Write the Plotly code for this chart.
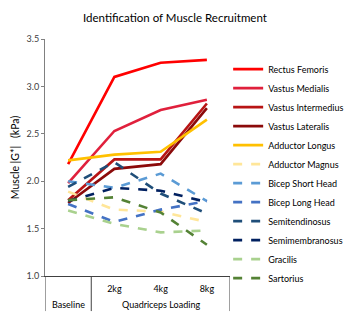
import plotly.graph_objects as go

conditions = ["Baseline", "2kg", "4kg", "8kg"]
load_labels = ["", "2kg", "4kg", "8kg"]
group_labels = ["Baseline", "Quadriceps Loading"]
group_centers = [0, 2]          # category index at the centre of each group
group_edges = [-0.5, 0.5, 3.5]  # boundaries between groups

muscles = ["Rectus Femoris", "Vastus Medialis", "Vastus Intermedius", "Vastus Lateralis",
           "Adductor Longus", "Adductor Magnus", "Bicep Short Head", "Bicep Long Head",
           "Semitendinosus", "Semimembranosus", "Gracilis", "Sartorius"]

rectus_femoris = [2.18, 3.10, 3.25, 3.28]
vastus_medialis = [1.98, 2.53, 2.75, 2.86]
vastus_intermedius = [1.80, 2.23, 2.23, 2.82]
vastus_lateralis = [1.77, 2.13, 2.18, 2.77]
adductor_longus = [2.22, 2.28, 2.31, 2.65]
adductor_magnus = [1.89, 1.70, 1.68, 1.57]
bicep_short_head = [2.00, 1.93, 2.08, 1.79]
bicep_long_head = [1.76, 1.57, 1.70, 1.79]
semitendinosus = [1.94, 2.20, 1.87, 1.66]
semimembranosus = [1.79, 1.93, 1.90, 1.78]
gracilis = [1.69, 1.55, 1.46, 1.48]
sartorius = [1.80, 1.83, 1.67, 1.33]

values = [rectus_femoris, vastus_medialis, vastus_intermedius, vastus_lateralis,
          adductor_longus, adductor_magnus, bicep_short_head, bicep_long_head,
          semitendinosus, semimembranosus, gracilis, sartorius]

colors = ["#FF0000", "#E0203C", "#B81414", "#8B0A0A", "#FFC000", "#FFE699",
          "#5B9BD5", "#4472C4", "#1F4E79", "#002060", "#A9D18E", "#548235"]
dashes = ["solid"] * 5 + ["dash"] * 7

fig = go.Figure()
for name, vals, c, d in zip(muscles, values, colors, dashes):
    fig.add_trace(go.Scatter(
        x=conditions, y=vals, mode="lines", name=name,
        line=dict(color=c, width=2.6, dash=d),
    ))

font_family = "Lato, 'Open Sans', sans-serif"
# page body has an 8px margin, so the figure is drawn 8px in from the window edge
fig.update_layout(
    width=345, height=309,
    margin=dict(l=37, r=123, t=31, b=41, autoexpand=False),
    paper_bgcolor="white", plot_bgcolor="white",
    font=dict(family=font_family, size=10, color="#404040"),
    title=dict(text="Identification of Muscle Recruitment", x=0.484, xanchor="center",
               y=0.968, yanchor="middle", font=dict(size=11.5, color="#000000")),
    showlegend=True,
    legend=dict(x=0.99, xanchor="left", y=0.934, yanchor="top",
                font=dict(size=9, color="#000000"), bgcolor="rgba(0,0,0,0)"),
)

# group labels and divider lines of the two-level category axis
for lab, cx in zip(group_labels, group_centers):
    fig.add_annotation(x=cx, xref="x", y=-0.122, yref="paper", text=lab, showarrow=False,
                       xanchor="center", yanchor="middle", font=dict(size=9, color="#000000"))
for ex in group_edges:
    fig.add_shape(type="line", xref="x", yref="paper", x0=ex, x1=ex, y0=0, y1=-0.148,
                  line=dict(color="#404040", width=1))

fig.update_xaxes(type="category", categoryorder="array", categoryarray=conditions,
                 tickmode="array", tickvals=conditions, ticktext=load_labels,
                 showline=True, linecolor="#404040", linewidth=1,
                 showgrid=False, ticks="", ticklabelstandoff=4,
                 tickfont=dict(size=9, color="#000000"), range=[-0.5, 3.5])
fig.update_yaxes(range=[1.0, 3.5], dtick=0.5, tickformat=".1f", showline=True,
                 linecolor="#808080", linewidth=1, showgrid=False, zeroline=False,
                 ticks="outside", ticklen=3, tickcolor="#808080",
                 tickfont=dict(size=9, color="#404040"),
                 title=dict(text="Muscle |G*|   (kPa)", font=dict(size=10.5, color="#000000"), standoff=4))

fig.write_html("out.html")
